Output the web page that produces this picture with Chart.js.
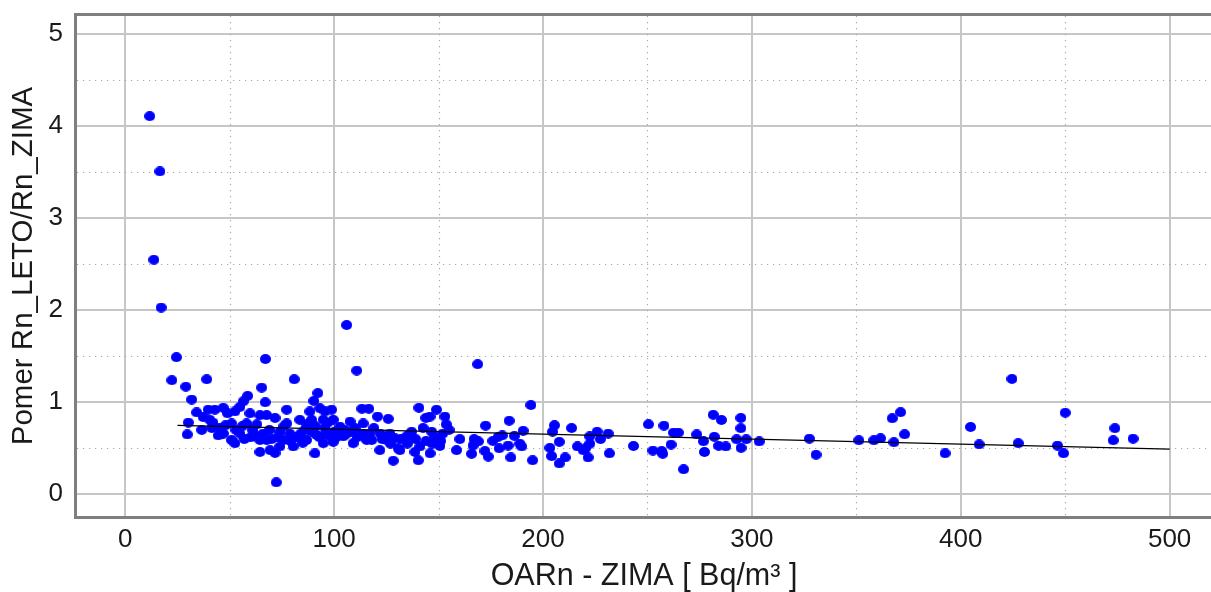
<!DOCTYPE html>
<html>
<head>
<meta charset="utf-8">
<script src="https://cdn.jsdelivr.net/npm/chart.js@4/dist/chart.umd.min.js"></script>
<style>
  html, body { margin: 0; padding: 0; background: #ffffff; }
  #wrap { width: 1211px; height: 592px; }
</style>
</head>
<body>
<div id="wrap"><canvas id="c" width="1211" height="592"></canvas></div>
<script>
// OARn – winter radon concentration [Bq/m³]
const oarnZima = [
  11.7, 16.6, 13.7, 17.2, 24.5, 22.3, 29.0, 39.0, 31.8, 34.2, 30.2, 29.7,
  37.3, 36.6, 39.7, 40.5, 41.4, 42.9, 44.5, 46.9, 50.9, 50.9, 52.5, 52.5,
  54.9, 54.9, 56.5, 58.1, 58.6, 59.7, 62.1, 64.5, 64.5, 64.5, 65.3, 67.0,
  67.1, 67.7, 67.7, 69.3, 71.7, 71.7, 72.3, 74.0, 75.6, 77.3, 77.3, 78.8,
  80.4, 80.9, 83.6, 86.0, 86.8, 88.4, 89.2, 90.3, 90.8, 91.6, 92.2, 93.2,
  94.8, 94.8, 95.6, 95.6, 98.0, 98.8, 99.6, 99.6, 102.8, 104.4, 106.0, 107.6,
  109.1, 110.8, 112.4, 113.3, 113.9, 115.6, 116.6, 117.1, 118.0, 120.8, 121.9, 125.1,
  125.9, 126.7, 128.3, 129.1, 130.7, 131.5, 134.7, 137.1, 138.7, 140.3, 140.6, 141.1,
  142.6, 143.9, 145.9, 145.9, 146.7, 149.0, 150.6, 153.0, 153.7, 158.6, 160.2, 165.8,
  166.5, 167.0, 168.7, 169.0, 172.5, 172.2, 173.8, 176.0, 178.6, 179.0, 180.5, 183.8,
  184.6, 183.3, 186.3, 188.9, 190.5, 189.8, 194.2, 195.0,
  203.3, 204.1, 204.6, 205.5, 207.8, 207.8, 210.6, 213.7, 216.5, 219.2, 220.4, 221.6,
  222.4, 222.4, 225.9, 227.5, 231.2, 231.8, 243.3, 250.5, 252.6, 256.8, 257.3, 257.9,
  261.3, 262.5, 264.8, 267.3, 273.6, 276.8, 277.3, 281.5, 285.4, 282.0, 284.1, 287.5,
  292.7, 294.7, 294.7, 294.8, 297.3, 303.5,
  327.5, 330.7, 351.2, 358.4, 361.6, 368.0, 367.2, 371.2, 373.1, 392.5, 404.7, 408.8,
  424.5, 427.5, 446.3, 449.2, 450.0, 473.0, 473.8, 482.5,
  42, 45, 47, 48, 49, 53, 56, 57, 60, 61, 63, 66,
  69, 70, 73, 74, 76, 79, 82, 84, 85, 87, 89, 91,
  93, 96, 97, 100, 101, 103, 105, 106, 108, 110, 111, 114,
  119, 122, 123, 127, 132, 135, 136, 139, 144, 147, 148, 151,
  152, 155
];

// Pomer Rn_LETO / Rn_ZIMA – summer/winter ratio for the same dwellings
const pomerLetoZima = [
  4.11, 3.51, 2.55, 2.03, 1.49, 1.24, 1.17, 1.25, 1.03, 0.89, 0.78, 0.65,
  0.84, 0.70, 0.92, 0.81, 0.72, 0.92, 0.64, 0.94, 0.77, 0.59, 0.90, 0.555,
  0.95, 0.66, 1.01, 0.77, 1.07, 0.88, 0.645, 0.59, 0.46, 0.86, 1.16, 1.00,
  1.47, 0.86, 0.59, 0.48, 0.45, 0.83, 0.13, 0.52, 0.59, 0.92, 0.77, 0.66,
  0.52, 1.25, 0.81, 0.70, 0.59, 0.90, 0.81, 1.015, 0.445, 0.645, 1.10, 0.935,
  0.81, 0.555, 0.90, 0.72, 0.63, 0.92, 0.81, 0.57, 0.735, 0.63, 1.84, 0.79,
  0.555, 1.345, 0.66, 0.93, 0.77, 0.59, 0.93, 0.66, 0.59, 0.845, 0.48, 0.59,
  0.82, 0.66, 0.365, 0.61, 0.50, 0.48, 0.63, 0.68, 0.46, 0.37, 0.94, 0.52,
  0.72, 0.83, 0.845, 0.445, 0.68, 0.92, 0.525, 0.845, 0.76, 0.48, 0.60, 0.44,
  0.53, 0.60, 1.414, 0.575, 0.746, 0.47, 0.41, 0.58, 0.625, 0.50, 0.64, 0.80,
  0.40, 0.53, 0.635, 0.55, 0.69, 0.52, 0.97, 0.37,
  0.505, 0.415, 0.68, 0.75, 0.57, 0.335, 0.40, 0.72, 0.52, 0.48, 0.50, 0.40,
  0.63, 0.55, 0.68, 0.60, 0.66, 0.445, 0.525, 0.76, 0.475, 0.47, 0.44, 0.746,
  0.54, 0.67, 0.67, 0.272, 0.65, 0.577, 0.46, 0.864, 0.808, 0.625, 0.527, 0.52,
  0.598, 0.83, 0.718, 0.505, 0.598, 0.574,
  0.605, 0.43, 0.587, 0.587, 0.609, 0.565, 0.826, 0.892, 0.652, 0.446, 0.732, 0.542,
  1.254, 0.555, 0.529, 0.446, 0.887, 0.587, 0.718, 0.605,
  0.78, 0.72, 0.66, 0.75, 0.88, 0.70, 0.74, 0.60, 0.62, 0.70, 0.76, 0.66,
  0.70, 0.60, 0.62, 0.68, 0.74, 0.58, 0.62, 0.66, 0.56, 0.76, 0.68, 0.74,
  0.62, 0.66, 0.78, 0.68, 0.62, 0.64, 0.70, 0.66, 0.68, 0.72, 0.62, 0.66,
  0.72, 0.66, 0.60, 0.55, 0.60, 0.55, 0.64, 0.60, 0.58, 0.55, 0.62, 0.58,
  0.66, 0.70
];

// Linear trend of the ratio against winter concentration
const trendX = [25, 500];
const trendY = [0.75, 0.49];

// Axis ticks (labelled, solid grid) and half steps (dotted grid)
const xTickValues = [0, 100, 200, 300, 400, 500];
const yTickValues = [0, 1, 2, 3, 4, 5];
const xHalfSteps = [50, 150, 250, 350, 450];
const yHalfSteps = [0.5, 1.5, 2.5, 3.5, 4.5];

const FONT = "'Liberation Sans', Arial, sans-serif";
const TEXT = '#1a1a1a';

const points = oarnZima.map((x, i) => ({ x, y: pomerLetoZima[i] }));
const trend = trendX.map((x, i) => ({ x, y: trendY[i] }));

// Slightly wide blue dot used as the marker
function makeDot(w, h, color) {
  const c = document.createElement('canvas');
  c.width = w; c.height = h;
  const g = c.getContext('2d');
  g.fillStyle = color;
  g.beginPath();
  g.ellipse(w / 2, h / 2, w / 2, h / 2, 0, 0, Math.PI * 2);
  g.fill();
  return c;
}
const dot = makeDot(11, 10, '#0000ff');

const halfStepGrid = {
  id: 'halfStepGrid',
  beforeDatasetsDraw(chart) {
    const { ctx, chartArea: a, scales: { x, y } } = chart;
    ctx.save();
    ctx.strokeStyle = '#a9a9a9';
    ctx.lineWidth = 1.2;
    ctx.setLineDash([1.2, 4.8]);
    xHalfSteps.forEach(v => {
      const px = Math.round(x.getPixelForValue(v)) + 0.5;
      ctx.beginPath(); ctx.moveTo(px, a.top); ctx.lineTo(px, a.bottom); ctx.stroke();
    });
    yHalfSteps.forEach(v => {
      const py = Math.round(y.getPixelForValue(v)) + 0.5;
      ctx.beginPath(); ctx.moveTo(a.left, py); ctx.lineTo(a.right, py); ctx.stroke();
    });
    ctx.restore();
  }
};

const frame = {
  id: 'frame',
  afterDraw(chart) {
    const { ctx, chartArea: a } = chart;
    ctx.save();
    ctx.strokeStyle = '#7f7f7f';
    ctx.lineWidth = 3;
    ctx.strokeRect(a.left - 1.5, a.top - 1.5, a.right - a.left + 10, a.bottom - a.top + 3);
    ctx.restore();
  }
};

new Chart(document.getElementById('c'), {
  type: 'scatter',
  data: {
    datasets: [
      {
        type: 'line',
        data: trend,
        borderColor: '#000000',
        borderWidth: 1.3,
        pointRadius: 0,
        fill: false
      },
      {
        data: points,
        pointStyle: dot,
        backgroundColor: '#0000ff',
        borderWidth: 0,
        pointRadius: 5.5,
        pointHoverRadius: 5.5
      }
    ]
  },
  options: {
    responsive: false,
    animation: false,
    devicePixelRatio: 1,
    layout: { autoPadding: false, padding: { top: 16, left: 0, right: 0, bottom: 0 } },
    plugins: { legend: { display: false }, tooltip: { enabled: false } },
    scales: {
      x: {
        type: 'linear',
        min: -23.1,
        max: 519.8,
        afterBuildTicks: s => { s.ticks = xTickValues.map(v => ({ value: v })); },
        afterFit: s => { s.height = 76; s.paddingLeft = 0; s.paddingRight = 0; },
        border: { display: false },
        grid: { color: '#c6c6c6', lineWidth: 2, drawTicks: false },
        ticks: { font: { family: FONT, size: 26 }, color: TEXT, padding: 8, maxRotation: 0 },
        title: {
          display: true,
          text: 'OARn - ZIMA [ Bq/m³ ]',
          font: { family: FONT, size: 30.5, lineHeight: 1 },
          color: TEXT,
          padding: { top: 0, bottom: 0 }
        }
      },
      y: {
        type: 'linear',
        min: -0.236,
        max: 5.199,
        afterBuildTicks: s => { s.ticks = yTickValues.map(v => ({ value: v })); },
        afterFit: s => { s.width = 77; s.paddingTop = 0; s.paddingBottom = 0; },
        border: { display: false },
        grid: { color: '#c6c6c6', lineWidth: 2, drawTicks: false },
        ticks: { font: { family: FONT, size: 26 }, color: TEXT, padding: 14 },
        title: {
          display: true,
          text: 'Pomer Rn_LETO/Rn_ZIMA',
          font: { family: FONT, size: 29.5, lineHeight: 1 },
          color: TEXT,
          padding: { top: 9, bottom: 0 }
        }
      }
    }
  },
  plugins: [halfStepGrid, frame]
});
</script>
</body>
</html>
